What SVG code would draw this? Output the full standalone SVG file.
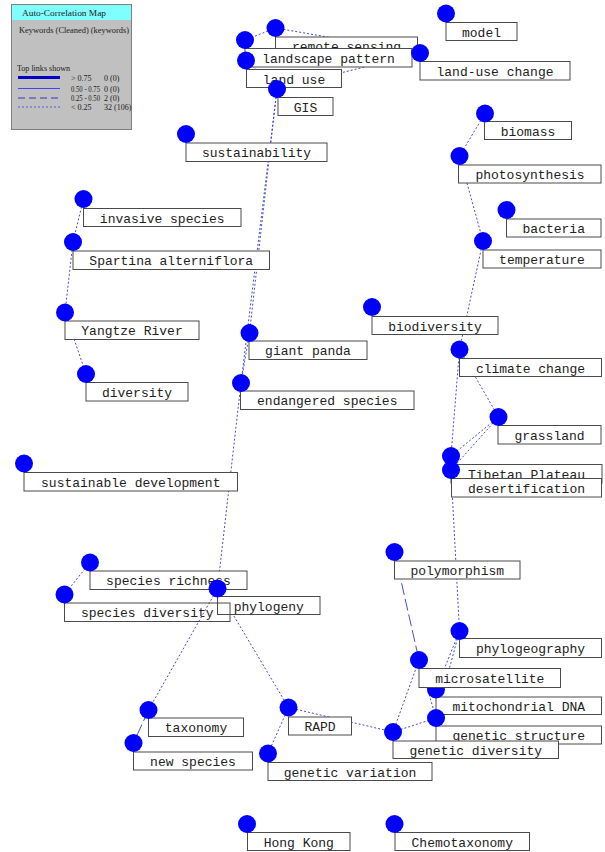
<svg xmlns="http://www.w3.org/2000/svg" width="605" height="852" viewBox="0 0 605 852">
<style>
.bg{fill:#ffffff}
.lg{fill:#c0c0c0;stroke:#808080;stroke-width:1}
.lt{font-family:"Liberation Serif","Times New Roman",serif;font-size:8px;fill:#1a1a1a}
.dot{stroke:#4a4ad2;stroke-width:1;stroke-dasharray:2,2;fill:none}
.dash{stroke:#4a4ad2;stroke-width:1;stroke-dasharray:12,4;fill:none}
.node circle{fill:#0000ff}
.node rect{fill:#ffffff;stroke:#4a4a4a;stroke-width:1}
.node text{font-family:"Liberation Mono","DejaVu Sans Mono",monospace;font-size:13px;fill:#222222;text-anchor:middle}
</style>
<rect class="bg" x="0" y="0" width="605" height="852"/>

<g id="legend">
<rect class="lg" x="11.5" y="4.5" width="120" height="125"/>
<rect x="12" y="5" width="119" height="15" fill="#80ffff"/>
<text class="lt" x="22" y="15.5" font-size="9" textLength="84" lengthAdjust="spacingAndGlyphs">Auto-Correlation Map</text>
<text class="lt" x="19" y="33" textLength="110" lengthAdjust="spacingAndGlyphs">Keywords (Cleaned) (keywords)</text>
<text class="lt" x="17" y="70.5" textLength="53" lengthAdjust="spacingAndGlyphs">Top links shown</text>
<line x1="18" y1="77.5" x2="60" y2="77.5" stroke="#0000cc" stroke-width="3"/>
<line x1="18" y1="88.5" x2="60" y2="88.5" stroke="#4444ee" stroke-width="1"/>
<line x1="18" y1="98" x2="60" y2="98" stroke="#3333cc" stroke-width="1" stroke-dasharray="7,4"/>
<line x1="18" y1="107" x2="60" y2="107" stroke="#5555dd" stroke-width="1" stroke-dasharray="2,2"/>
<text class="lt" x="71" y="80.5">&gt; 0.75</text>
<text class="lt" x="104" y="80.5">0 (0)</text>
<text class="lt" x="71" y="91.5" textLength="29" lengthAdjust="spacingAndGlyphs">0.50 - 0.75</text>
<text class="lt" x="104" y="91.5">0 (0)</text>
<text class="lt" x="71" y="101" textLength="29" lengthAdjust="spacingAndGlyphs">0.25 - 0.50</text>
<text class="lt" x="104" y="101">2 (0)</text>
<text class="lt" x="71" y="110">&lt; 0.25</text>
<text class="lt" x="104" y="110">32 (106)</text>
</g>

<g id="connectors">
<line class="dot" x1="275.5" y1="28" x2="245" y2="40"/>
<line class="dot" x1="275.5" y1="28" x2="420" y2="53"/>
<line class="dot" x1="277" y1="89" x2="420" y2="53"/>
<line class="dot" x1="245" y1="40" x2="246" y2="60.5"/>
<line class="dot" x1="246" y1="60.5" x2="277" y2="89"/>
<line class="dot" x1="277" y1="89" x2="249.5" y2="333"/>
<line class="dot" x1="277" y1="89" x2="241" y2="383"/>
<line class="dot" x1="249.5" y1="333" x2="241" y2="383"/>
<line class="dot" x1="241" y1="383" x2="217.5" y2="588.5"/>
<line class="dot" x1="217.5" y1="588.5" x2="148.5" y2="710"/>
<line class="dot" x1="217.5" y1="588.5" x2="288.5" y2="707.5"/>
<line class="dot" x1="90" y1="562.5" x2="64.5" y2="594.5"/>
<line class="dot" x1="288.5" y1="707.5" x2="268" y2="753.5"/>
<line class="dot" x1="288.5" y1="707.5" x2="393" y2="732"/>
<line class="dot" x1="393" y1="732" x2="419" y2="660"/>
<line class="dot" x1="393" y1="732" x2="436" y2="718"/>
<line class="dot" x1="419" y1="660" x2="436" y2="718"/>
<line class="dot" x1="459.5" y1="631" x2="436" y2="689.5"/>
<line class="dot" x1="459.5" y1="631" x2="436" y2="718"/>
<line class="dot" x1="451" y1="470" x2="459.5" y2="631"/>
<line class="dot" x1="498.5" y1="417" x2="451" y2="456"/>
<line class="dot" x1="498.5" y1="417" x2="451" y2="470"/>
<line class="dot" x1="459.5" y1="349.5" x2="498.5" y2="417"/>
<line class="dot" x1="459.5" y1="349.5" x2="451" y2="456"/>
<line class="dot" x1="483" y1="241" x2="459.5" y2="349.5"/>
<line class="dot" x1="459.5" y1="156" x2="483" y2="241"/>
<line class="dot" x1="485" y1="113.5" x2="459.5" y2="156"/>
<line class="dot" x1="83.5" y1="199" x2="73" y2="242"/>
<line class="dot" x1="73" y1="242" x2="65" y2="312.5"/>
<line class="dot" x1="65" y1="312.5" x2="86" y2="374"/>
<line class="dash" x1="394.5" y1="552" x2="419" y2="660"/>
<line class="dash" x1="148.5" y1="710" x2="133.5" y2="743"/>
</g>

<g id="n-remote-sensing" class="node"><rect x="275.5" y="37" width="142" height="18.5"/><circle cx="275.5" cy="28" r="9"/><text x="346.5" y="51">remote sensing</text></g>
<g id="n-landscape-pattern" class="node"><rect x="245" y="48.5" width="167" height="18.5"/><circle cx="245" cy="40" r="9"/><text x="328.5" y="62.5">landscape pattern</text></g>
<g id="n-land-use" class="node"><rect x="246.5" y="69.5" width="95" height="18"/><circle cx="246" cy="60.5" r="9"/><text x="294" y="83.5">land use</text></g>
<g id="n-gis" class="node"><rect x="278" y="97.5" width="55" height="18"/><circle cx="277" cy="89" r="9"/><text x="305.5" y="111.5">GIS</text></g>
<g id="n-model" class="node"><rect x="446" y="22.5" width="71" height="18"/><circle cx="446" cy="13.5" r="9"/><text x="481.5" y="36.5">model</text></g>
<g id="n-land-use-change" class="node"><rect x="420" y="61.5" width="150" height="18.5"/><circle cx="420" cy="53" r="9"/><text x="495" y="75.5">land-use change</text></g>
<g id="n-sustainability" class="node"><rect x="186" y="143" width="141" height="18.5"/><circle cx="186" cy="134" r="9"/><text x="256.5" y="157">sustainability</text></g>
<g id="n-biomass" class="node"><rect x="484.5" y="121.5" width="87" height="18"/><circle cx="485" cy="113.5" r="9"/><text x="528" y="135.5">biomass</text></g>
<g id="n-photosynthesis" class="node"><rect x="458.5" y="165" width="142.5" height="18"/><circle cx="459.5" cy="156" r="9"/><text x="530" y="179">photosynthesis</text></g>
<g id="n-bacteria" class="node"><rect x="506.5" y="219" width="94.5" height="18"/><circle cx="506.5" cy="210" r="9"/><text x="553.75" y="233">bacteria</text></g>
<g id="n-temperature" class="node"><rect x="483" y="250" width="118" height="18"/><circle cx="483" cy="241" r="9"/><text x="542" y="264">temperature</text></g>
<g id="n-invasive-species" class="node"><rect x="83.5" y="208.5" width="157.5" height="18"/><circle cx="83.5" cy="199" r="9"/><text x="162.25" y="222.5">invasive species</text></g>
<g id="n-spartina" class="node"><rect x="73" y="251" width="196.5" height="18.5"/><circle cx="73" cy="242" r="9"/><text x="171.25" y="265">Spartina alterniflora</text></g>
<g id="n-yangtze" class="node"><rect x="65" y="321" width="134" height="18.5"/><circle cx="65" cy="312.5" r="9"/><text x="132" y="335">Yangtze River</text></g>
<g id="n-diversity" class="node"><rect x="86" y="382.5" width="102" height="18.5"/><circle cx="86" cy="374" r="9"/><text x="137" y="396.5">diversity</text></g>
<g id="n-biodiversity" class="node"><rect x="372" y="316.5" width="126" height="18"/><circle cx="372" cy="307" r="9"/><text x="435" y="330.5">biodiversity</text></g>
<g id="n-giant-panda" class="node"><rect x="249" y="341" width="118" height="18.5"/><circle cx="249.5" cy="333" r="9"/><text x="308" y="355">giant panda</text></g>
<g id="n-endangered-species" class="node"><rect x="240.5" y="391" width="173.5" height="18.5"/><circle cx="241" cy="383" r="9"/><text x="327.25" y="405">endangered species</text></g>
<g id="n-climate-change" class="node"><rect x="459.5" y="358.5" width="142" height="18"/><circle cx="459.5" cy="349.5" r="9"/><text x="530.5" y="372.5">climate change</text></g>
<g id="n-grassland" class="node"><rect x="498" y="425.5" width="103" height="18.5"/><circle cx="498.5" cy="417" r="9"/><text x="549.5" y="439.5">grassland</text></g>
<g id="n-tibetan-plateau" class="node"><rect x="451" y="464.5" width="151" height="18.5"/><circle cx="451" cy="456" r="9"/><text x="526.5" y="478.5">Tibetan Plateau</text></g>
<g id="n-desertification" class="node"><rect x="451.5" y="478.5" width="150" height="18.5"/><circle cx="451" cy="470" r="9"/><text x="526.5" y="492.5">desertification</text></g>
<g id="n-sustainable-development" class="node"><rect x="24" y="472.5" width="213.5" height="18.5"/><circle cx="24" cy="463.5" r="9"/><text x="130.75" y="486.5">sustainable development</text></g>
<g id="n-species-richness" class="node"><rect x="90" y="571" width="157" height="18.5"/><circle cx="90" cy="562.5" r="9"/><text x="168.5" y="585">species richness</text></g>
<g id="n-phylogeny" class="node"><rect x="217.5" y="596.5" width="102.5" height="18"/><circle cx="217.5" cy="588.5" r="9"/><text x="268.75" y="610.5">phylogeny</text></g>
<g id="n-species-diversity" class="node"><rect x="64.5" y="603" width="165.5" height="18.5" fill-opacity="0"/><circle cx="64.5" cy="594.5" r="9"/><text x="147.25" y="617">species diversity</text></g>
<g id="n-polymorphism" class="node"><rect x="394.5" y="561" width="125.5" height="18"/><circle cx="394.5" cy="552" r="9"/><text x="457.25" y="575">polymorphism</text></g>
<g id="n-phylogeography" class="node"><rect x="459.5" y="638.5" width="142" height="19"/><circle cx="459.5" cy="631" r="9"/><text x="530.5" y="652.5">phylogeography</text></g>
<g id="n-mitochondrial-dna" class="node"><rect x="436" y="697" width="165.5" height="17.5"/><circle cx="436" cy="689.5" r="9"/><text x="518.75" y="711">mitochondrial DNA</text></g>
<g id="n-microsatellite" class="node"><rect x="419" y="668.5" width="141.5" height="19"/><circle cx="419" cy="660" r="9"/><text x="489.75" y="682.5">microsatellite</text></g>
<g id="n-genetic-structure" class="node"><rect x="436" y="726" width="165.5" height="18"/><circle cx="436" cy="718" r="9"/><text x="518.75" y="740">genetic structure</text></g>
<g id="n-genetic-diversity" class="node"><rect x="393" y="741" width="165.5" height="17.5"/><circle cx="393" cy="732" r="9"/><text x="475.75" y="755">genetic diversity</text></g>
<g id="n-rapd" class="node"><rect x="288.5" y="717" width="63" height="18"/><circle cx="288.5" cy="707.5" r="9"/><text x="320" y="731">RAPD</text></g>
<g id="n-genetic-variation" class="node"><rect x="268" y="762.5" width="164" height="18"/><circle cx="268" cy="753.5" r="9"/><text x="350" y="776.5">genetic variation</text></g>
<g id="n-taxonomy" class="node"><rect x="148.5" y="718" width="95" height="18.5"/><circle cx="148.5" cy="710" r="9"/><text x="196" y="732">taxonomy</text></g>
<g id="n-new-species" class="node"><rect x="133.5" y="752" width="119" height="18"/><circle cx="133.5" cy="743" r="9"/><text x="193" y="766">new species</text></g>
<g id="n-hong-kong" class="node"><rect x="247.5" y="832.5" width="102.5" height="18"/><circle cx="247" cy="824" r="9"/><text x="298.75" y="846.5">Hong Kong</text></g>
<g id="n-chemotaxonomy" class="node"><rect x="395" y="832.5" width="134.5" height="18"/><circle cx="394.5" cy="824" r="9"/><text x="462.25" y="846.5">Chemotaxonomy</text></g>
</svg>
